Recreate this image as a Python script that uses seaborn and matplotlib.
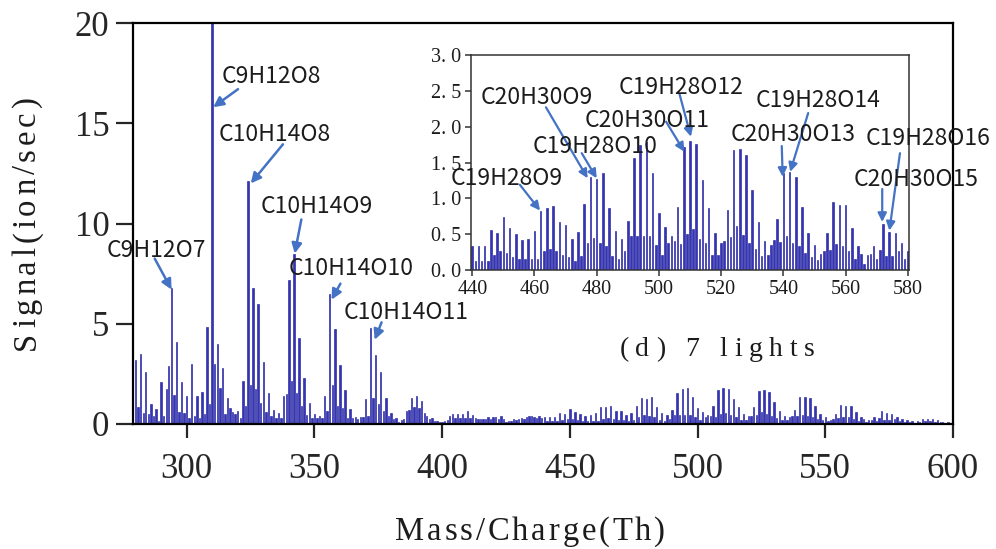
import matplotlib
matplotlib.use("Agg")
import matplotlib.pyplot as plt
from matplotlib.font_manager import FontProperties
import numpy as np
import pandas as pd
import seaborn as sns

# ---- spectrum: one stick per nominal mass, 280..600 Th ----
mass_first = 280
mass_last = 600
signal = [
    # 280-299
    3.2, 0.85, 3.5, 0.57, 2.6, 0.5, 1.0, 0.4, 0.73, 0.15,
    2.07, 0.4, 1.73, 2.9, 6.8, 1.45, 4.07, 0.6, 2.07, 0.55,
    # 300-319
    1.4, 0.3, 2.98, 0.4, 1.4, 0.3, 1.6, 0.48, 4.85, 1.0,
    20.0, 2.98, 4.0, 1.8, 2.8, 0.5, 1.3, 0.8, 0.6, 0.48,
    # 320-339
    0.65, 0.3, 2.15, 0.9, 12.1, 1.95, 6.78, 1.73, 6.0, 1.07,
    3.07, 0.6, 1.57, 0.4, 0.7, 0.3, 0.57, 0.3, 1.4, 1.48,
    # 340-359
    7.2, 2.15, 8.48, 1.57, 4.28, 0.9, 2.3, 0.45, 1.07, 0.3,
    0.48, 0.3, 0.4, 0.3, 1.4, 0.65, 6.5, 1.95, 4.73, 0.9,
    # 360-379
    2.93, 0.78, 1.68, 0.3, 0.73, 0.3, 0.35, 0.25, 0.35, 0.35,
    1.23, 0.4, 4.77, 1.3, 3.45, 1.0, 2.6, 0.65, 1.28, 0.4,
    # 380-399
    0.57, 0.23, 0.28, 0.12, 0.18, 0.23, 0.65, 0.68, 1.32, 0.85,
    1.38, 0.8, 1.13, 0.57, 0.4, 0.25, 0.3, 0.15, 0.15, 0.12,
    # 400-419
    0.12, 0.13, 0.2, 0.4, 0.48, 0.3, 0.48, 0.3, 0.48, 0.28,
    0.65, 0.3, 0.45, 0.3, 0.23, 0.23, 0.23, 0.27, 0.35, 0.23,
    # 420-439
    0.35, 0.35, 0.27, 0.4, 0.23, 0.12, 0.15, 0.15, 0.23, 0.2,
    0.23, 0.32, 0.23, 0.35, 0.4, 0.4, 0.35, 0.32, 0.4, 0.32,
    # 440-459
    0.34, 0.13, 0.33, 0.13, 0.34, 0.13, 0.56, 0.21, 0.51, 0.26,
    0.74, 0.24, 0.58, 0.18, 0.50, 0.15, 0.42, 0.15, 0.43, 0.15,
    # 460-479
    0.55, 0.15, 0.83, 0.27, 0.86, 0.30, 0.89, 0.26, 0.67, 0.21,
    0.63, 0.18, 0.43, 0.13, 0.53, 0.19, 0.92, 0.37, 1.30, 0.44,
    # 480-499
    1.27, 0.38, 1.36, 0.33, 0.86, 0.19, 0.55, 0.16, 0.43, 0.27,
    0.69, 0.47, 1.56, 0.47, 1.74, 0.47, 1.79, 0.47, 1.35, 0.35,
    # 500-519
    0.79, 0.21, 0.60, 0.37, 0.47, 0.41, 0.88, 0.36, 1.72, 0.50,
    1.80, 0.57, 1.76, 0.43, 1.26, 0.37, 0.86, 0.21, 0.52, 0.21,
    # 520-539
    0.38, 0.40, 0.84, 0.46, 1.67, 0.62, 1.69, 0.49, 1.61, 0.38,
    1.12, 0.30, 0.67, 0.20, 0.40, 0.21, 0.35, 0.42, 0.71, 0.39,
    # 540-559
    1.35, 0.47, 1.37, 0.38, 1.30, 0.34, 0.88, 0.24, 0.51, 0.18,
    0.35, 0.14, 0.22, 0.26, 0.52, 0.28, 0.95, 0.36, 0.91, 0.33,
    # 560-579
    0.91, 0.27, 0.58, 0.16, 0.33, 0.23, 0.09, 0.21, 0.22, 0.33,
    0.16, 0.28, 0.64, 0.19, 0.53, 0.19, 0.52, 0.26, 0.37, 0.16,
    # 580-600
    0.27, 0.10, 0.20, 0.08, 0.13, 0.07, 0.13, 0.08, 0.23, 0.15,
    0.27, 0.15, 0.25, 0.12, 0.20, 0.08, 0.12, 0.06, 0.08, 0.05,
    0.10,
]
mass = list(range(mass_first, mass_last + 1))

main_xticks = [300, 350, 400, 450, 500, 550, 600]
main_yticks = [0, 5, 10, 15, 20]
inset_xticks = [440, 460, 480, 500, 520, 540, 560, 580]
inset_yticks = [0.0, 0.5, 1.0, 1.5, 2.0, 2.5, 3.0]
inset_yticklabels = ["0. 0", "0. 5", "1. 0", "1. 5", "2. 0", "2. 5", "3. 0"]

main_formulas = ["C9H12O7", "C9H12O8", "C10H14O8", "C10H14O9", "C10H14O10", "C10H14O11"]
inset_formulas = ["C19H28O9", "C20H30O9", "C19H28O10", "C20H30O11", "C19H28O12",
                  "C20H30O13", "C19H28O14", "C20H30O15", "C19H28O16"]

x_title = "Mass/Charge(Th)"
y_title = "Signal(ion/sec)"
panel_tag = "(d) 7 lights"

# ---- style ----
BAR_FACE = "#3434b4"
BAR_EDGE = "#14149a"
ARROW = "#4472c4"
TEXT_DARK = "#1c1c1c"
SERIF = ["Liberation Serif", "DejaVu Serif"]
SANS = ["Noto Sans CJK SC", "DejaVu Sans"]

sns.set_style("ticks")
plt.rcParams["font.family"] = SERIF

W, H = 996, 549
fig = plt.figure(figsize=(W / 100, H / 100), dpi=100)
renderer = fig.canvas.get_renderer()


def advance(ch, fp):
    w1, _, _ = renderer.get_text_width_height_descent("x" + ch + "x", fp, ismath=False)
    w0, _, _ = renderer.get_text_width_height_descent("xx", fp, ismath=False)
    return w1 - w0


def tracked_text(s, center, base, span, size, vertical=False):
    """Letter-spaced serif text filling `span` pixels (origin top-left)."""
    fp = FontProperties(family=SERIF, size=size)
    adv = [advance(ch, fp) for ch in s]
    track = (span - sum(adv)) / (len(s) - 1)
    pos = center - span / 2
    for ch, a in zip(s, adv):
        mid = pos + a / 2
        pos += a + track
        if ch == " ":
            continue
        if vertical:
            fig.text(base / W, 1 - (2 * center - mid) / H, ch, rotation=90,
                     rotation_mode="anchor", ha="center", va="baseline",
                     fontproperties=fp, color=TEXT_DARK)
        else:
            fig.text(mid / W, 1 - base / H, ch, ha="center", va="baseline",
                     fontproperties=fp, color=TEXT_DARK)


df = pd.DataFrame({"mass": mass, "signal": signal})

# main spectrum
ax = fig.add_axes([133 / W, 1 - 424 / H, 820 / W, 401 / H])
sns.barplot(data=df, x="mass", y="signal", native_scale=True, width=0.55,
            color=BAR_FACE, edgecolor=BAR_EDGE, linewidth=0.4, saturation=1,
            errorbar=None, ax=ax)
ax.set_xlim(279, 600)
ax.set_ylim(0, 20)
ax.set_xticks(main_xticks)
ax.set_yticks(main_yticks)
ax.set_xticklabels([str(t) for t in main_xticks])
ax.set_yticklabels([str(t) for t in main_yticks])
ax.set_xlabel("")
ax.set_ylabel("")
for s in ax.spines.values():
    s.set_linewidth(1.6)
    s.set_color("black")
ax.tick_params(axis="x", direction="out", length=10, width=1.6, labelsize=25, pad=11)
ax.tick_params(axis="y", direction="out", length=12, width=1.6, labelsize=25, pad=5)

# axis titles and panel tag
tracked_text(y_title, 223, 35, 253, 23.5, vertical=True)
tracked_text(x_title, 530, 540, 270, 23.5)
tracked_text(panel_tag, 717, 356, 195, 20)

arrow_kw = dict(arrowstyle="-|>", color=ARROW, lw=1.8, mutation_scale=15,
                shrinkA=0, shrinkB=0)

# label position, arrow tail, arrow head (data coordinates)
main_marks = [
    ((288.2, 8.65), (287.5, 8.25), (294.1, 6.7)),
    ((333.3, 17.35), (320.1, 16.7), (310.4, 15.8)),
    ((334.5, 14.45), (337.7, 13.95), (325.1, 12.0)),
    ((350.8, 10.85), (344.9, 10.2), (342.3, 8.5)),
    ((364.5, 7.75), (360.2, 7.0), (356.7, 6.2)),
    ((386.1, 5.57), (376.3, 5.07), (373.6, 4.2)),
]
for name, (txt, tail, head) in zip(main_formulas, main_marks):
    ax.annotate("", xy=head, xytext=tail, arrowprops=arrow_kw, annotation_clip=False)
    ax.text(*txt, name, ha="center", va="center", fontsize=16.5, family=SANS,
            color=TEXT_DARK)

# zoomed window on the dimer region
axin = fig.add_axes([470.7 / W, 1 - 270 / H, 438.6 / W, 215 / H])
sub = df[(df["mass"] >= 440) & (df["mass"] <= 580)]
sns.barplot(data=sub, x="mass", y="signal", native_scale=True, width=0.5,
            color=BAR_FACE, edgecolor=BAR_EDGE, linewidth=0.4, saturation=1,
            errorbar=None, ax=axin)
axin.set_xlim(439.5, 580.5)
axin.set_ylim(0, 3)
axin.set_xticks(inset_xticks)
axin.set_xticklabels([str(t) for t in inset_xticks])
axin.set_yticks(inset_yticks)
axin.set_yticklabels(inset_yticklabels)
axin.set_xlabel("")
axin.set_ylabel("")
for s in axin.spines.values():
    s.set_linewidth(1.1)
    s.set_color("#333333")
axin.tick_params(direction="out", length=4, width=1.1, labelsize=14.5, pad=3,
                 colors="#333333", labelcolor=TEXT_DARK)

inset_kw = dict(arrowstyle="-|>", color=ARROW, lw=1.6, mutation_scale=13,
                shrinkA=0, shrinkB=0)
inset_marks = [
    ((451.1, 1.28), (455.3, 1.19), (461.8, 0.83)),
    ((460.7, 2.40), (463.7, 2.27), (477.1, 1.28)),
    ((479.5, 1.73), (475.2, 1.63), (480.0, 1.28)),
    ((496.2, 2.08), (502.3, 2.07), (508.2, 1.65)),
    ((507.0, 2.55), (506.6, 2.46), (510.3, 1.86)),
    ((543.2, 1.89), (539.5, 1.73), (539.8, 1.30)),
    ((551.3, 2.36), (548.0, 2.19), (542.2, 1.37)),
    ((582.6, 1.26), (571.8, 1.13), (571.8, 0.67)),
    ((586.5, 1.83), (577.5, 1.63), (574.1, 0.55)),
]
for name, (txt, tail, head) in zip(inset_formulas, inset_marks):
    axin.annotate("", xy=head, xytext=tail, arrowprops=inset_kw, annotation_clip=False)
    axin.text(*txt, name, ha="center", va="center", fontsize=16.5, family=SANS,
              color=TEXT_DARK, clip_on=False, zorder=5)

fig.savefig("out.png", dpi=100)
